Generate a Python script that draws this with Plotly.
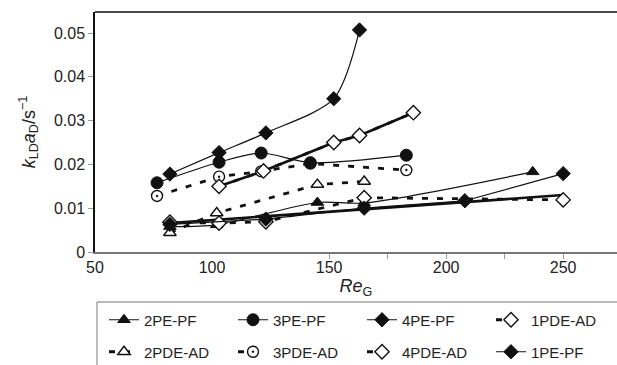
import plotly.graph_objects as go

# ---- data ----
re_2pe = [82, 102, 145, 165, 237]
k_2pe = [0.0058, 0.0062, 0.0113, 0.0112, 0.0183]
re_3pe = [76.5, 103, 121, 142, 183]
k_3pe = [0.0158, 0.0205, 0.0226, 0.0204, 0.0221]
re_4pe = [82, 103, 123, 152, 163]
k_4pe = [0.0178, 0.0227, 0.0272, 0.0350, 0.0507]
re_1pde = [82, 103, 123, 165, 250]
k_1pde = [0.0068, 0.0066, 0.0069, 0.0124, 0.0119]
re_2pde = [82, 102, 145, 165]
k_2pde = [0.0044, 0.0089, 0.0154, 0.0161]
re_3pde = [76.5, 103, 121, 142, 183]
k_3pde = [0.0128, 0.0172, 0.0184, 0.0202, 0.0187]
re_4pde = [103, 122, 152, 163, 186]
k_4pde = [0.0150, 0.0185, 0.0250, 0.0266, 0.0318]
re_1pe = [82, 123, 165, 208, 250]
k_1pe = [0.0063, 0.0075, 0.0100, 0.0117, 0.0179]
re_trend = [82, 250]
k_trend = [0.0066, 0.0130]

x_ticks = [50, 100, 150, 200, 250]
x_minor_ticks = [150, 175, 200, 225, 250]
y_ticks = [0, 0.01, 0.02, 0.03, 0.04, 0.05]

FONT = "Liberation Sans, Arial, sans-serif"
BLACK = "#111111"
DASH = "6px,9px"

fig = go.Figure()

# thick trend-like lines (no legend)
fig.add_trace(go.Scatter(x=re_4pde, y=k_4pde, mode="lines", showlegend=False,
                         line=dict(color=BLACK, width=2.6), hoverinfo="skip"))
fig.add_trace(go.Scatter(x=re_trend, y=k_trend, mode="lines", showlegend=False,
                         line=dict(color=BLACK, width=2.6), hoverinfo="skip"))

def solid(name, x, y, symbol, size, legend, rank, shape="spline"):
    fig.add_trace(go.Scatter(
        x=x, y=y, name=name, mode="lines+markers", legend=legend, legendrank=rank,
        line=dict(color=BLACK, width=1.2, shape=shape, smoothing=0.8),
        marker=dict(symbol=symbol, size=size, color=BLACK,
                    line=dict(color=BLACK, width=1))))

def dashed(name, x, y, symbol, size, legend, rank):
    fig.add_trace(go.Scatter(
        x=x, y=y, name=name, mode="lines+markers", legend=legend, legendrank=rank,
        line=dict(color=BLACK, width=2.8, dash=DASH),
        marker=dict(symbol=symbol, size=size, color="white",
                    line=dict(color=BLACK, width=1.4))))

# 3PDE-AD drawn first so the filled circles sit on top of it
dashed("3PDE-AD", re_3pde, k_3pde, "circle-dot", 11, "legend2", 2)
solid("2PE-PF", re_2pe, k_2pe, "triangle-up", 11, "legend", 1)
solid("3PE-PF", re_3pe, k_3pe, "circle", 12, "legend", 2)
solid("4PE-PF", re_4pe, k_4pe, "diamond", 11, "legend", 3)
dashed("1PDE-AD", re_1pde, k_1pde, "diamond", 11, "legend", 4)
dashed("2PDE-AD", re_2pde, k_2pde, "triangle-up", 11, "legend2", 1)
dashed("4PDE-AD", re_4pde, k_4pde, "diamond", 11, "legend2", 3)
solid("1PE-PF", re_1pe, k_1pe, "diamond", 11, "legend2", 4, shape="linear")

W, H = 617, 365
ml, mr, mt, mb = 95, 0, 12, 113
ph = H - mt - mb
pw = W - ml - mr

def py(pix):
    return (H - mb - pix) / ph

leg_common = dict(orientation="h", xanchor="left", yanchor="middle",
                  font=dict(family=FONT, size=15, color="#222"),
                  bgcolor="rgba(0,0,0,0)", borderwidth=0,
                  entrywidthmode="pixels", entrywidth=84,
                  traceorder="normal",
                  itemclick=False, itemdoubleclick=False)

fig.update_layout(
    width=W, height=H,
    margin=dict(l=ml, r=mr, t=mt, b=mb, autoexpand=False),
    paper_bgcolor="white", plot_bgcolor="white",
    font=dict(family=FONT, size=15, color="#222"),
    xaxis=dict(range=[50, 273], tickvals=x_ticks, ticks="",
               showgrid=False, zeroline=False, automargin=False,
               showline=True, linecolor="#777", linewidth=2,
               tickfont=dict(family=FONT, size=16, color="#222"),
               minor=dict(tickvals=x_minor_ticks, ticks="outside", ticklen=5,
                          tickcolor="#999", showgrid=False),
               title=dict(text="<i>Re</i><sub>G</sub>", standoff=0,
                          font=dict(family=FONT, size=18, color="#222"))),
    yaxis=dict(range=[0, 0.0548], tickvals=y_ticks, ticks="outside",
               ticklen=5, tickcolor="#999", showgrid=False, zeroline=False,
               automargin=False,
               showline=True, linecolor=BLACK, linewidth=1.5,
               tickfont=dict(family=FONT, size=16, color="#222"),
               title=dict(text="<i>k</i><sub>LD</sub><i>a</i><sub>D</sub>/s<sup>−1</sup>",
                          standoff=14,
                          font=dict(family=FONT, size=18, color="#222"))),
    legend=dict(x=9 / pw, y=py(320), **leg_common),
    legend2=dict(x=9 / pw, y=py(352), **leg_common),
    shapes=[
        dict(type="line", xref="paper", yref="paper", x0=0, x1=1, y0=1, y1=1,
             line=dict(color=BLACK, width=1.5)),
        dict(type="rect", xref="paper", yref="paper",
             x0=(97 - ml) / pw, x1=1.02, y0=py(302), y1=py(372),
             line=dict(color="#777", width=1), fillcolor="rgba(0,0,0,0)"),
    ],
)

fig.write_html("out.html", config={"displayModeBar": False},
               post_script="document.body.style.margin='0';document.body.style.overflow='hidden';")
